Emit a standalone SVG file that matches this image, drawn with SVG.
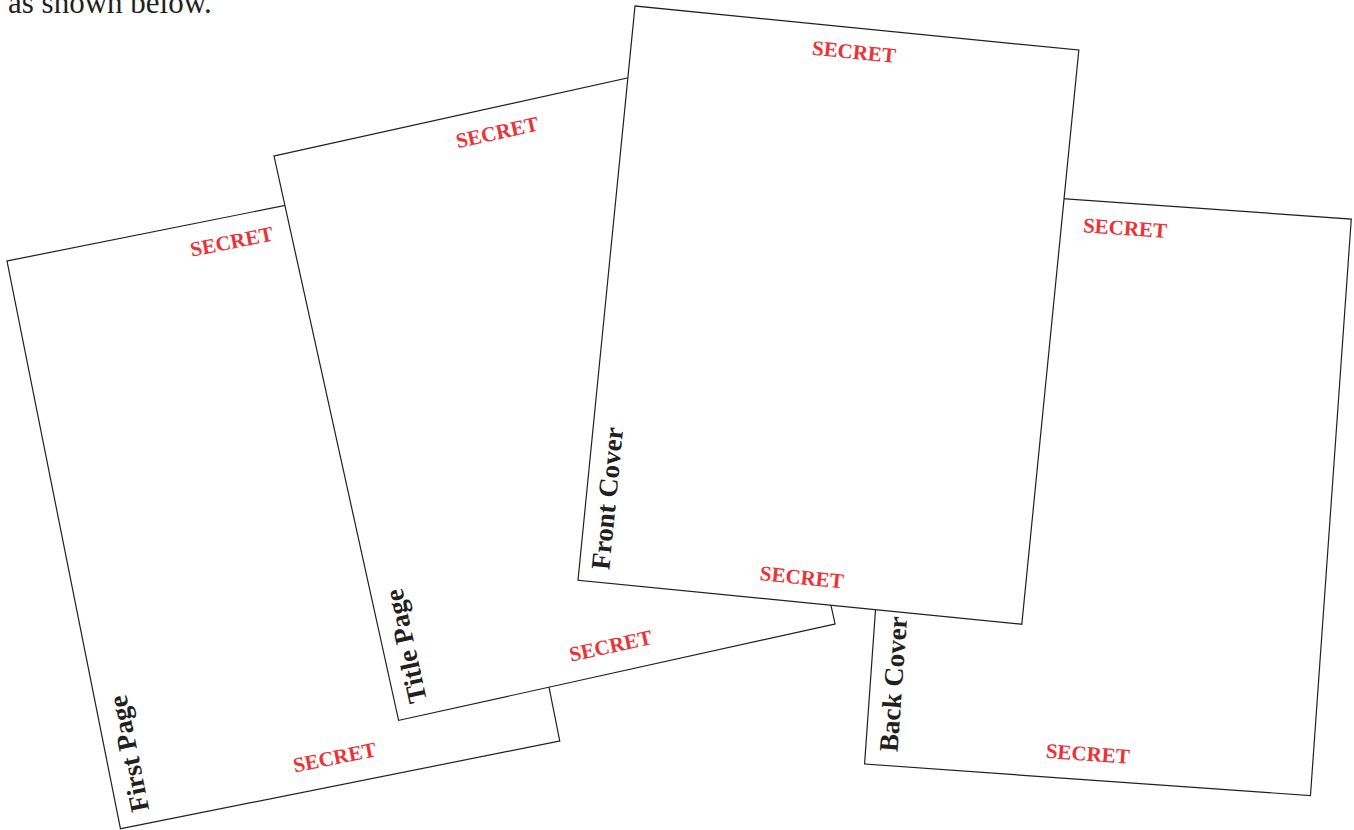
<svg xmlns="http://www.w3.org/2000/svg" width="1354" height="830" viewBox="0 0 1354 830">
<style>
.page{fill:#ffffff;stroke:#231f20;stroke-width:1.2}
.secret{font-family:"Liberation Serif",serif;font-weight:bold;font-size:21px;fill:#ed3237;text-anchor:middle}
.label{font-family:"Liberation Serif",serif;font-weight:bold;font-size:27px;fill:#231f20}
.intro{font-family:"Liberation Serif",serif;font-size:31px;fill:#231f20}
</style>
<rect width="1354" height="830" fill="#ffffff"/>
<text class="intro" x="8" y="13">as shown below.</text>
<g id="first-page" transform="translate(7 261) rotate(-11.3)">
<rect class="page" x="0" y="0" width="448" height="579"/>
<text class="secret" x="224" y="32">SECRET</text>
<text class="secret" x="224" y="558">SECRET</text>
<text class="label" transform="translate(32 566) rotate(-90)">First Page</text>
</g>
<g id="title-page" transform="translate(274 156) rotate(-12.45)">
<rect class="page" x="0" y="0" width="447" height="578"/>
<text class="secret" x="223" y="32">SECRET</text>
<text class="secret" x="223" y="558">SECRET</text>
<text class="label" transform="translate(32 565) rotate(-90)">Title Page</text>
</g>
<g id="back-cover" transform="translate(905.4 187.5) rotate(4.05)">
<rect class="page" x="0" y="0" width="447" height="578"/>
<text class="secret" x="222" y="32">SECRET</text>
<text class="secret" x="222" y="559">SECRET</text>
<text class="label" transform="translate(32 564) rotate(-90)">Back Cover</text>
</g>
<g id="front-cover" transform="translate(635 6) rotate(5.67)">
<rect class="page" x="0" y="0" width="446" height="577"/>
<text class="secret" x="222.5" y="31">SECRET</text>
<text class="secret" x="222.5" y="559">SECRET</text>
<text class="label" transform="translate(30 564) rotate(-90)">Front Cover</text>
</g>
<g id="connectors"/>
</svg>
